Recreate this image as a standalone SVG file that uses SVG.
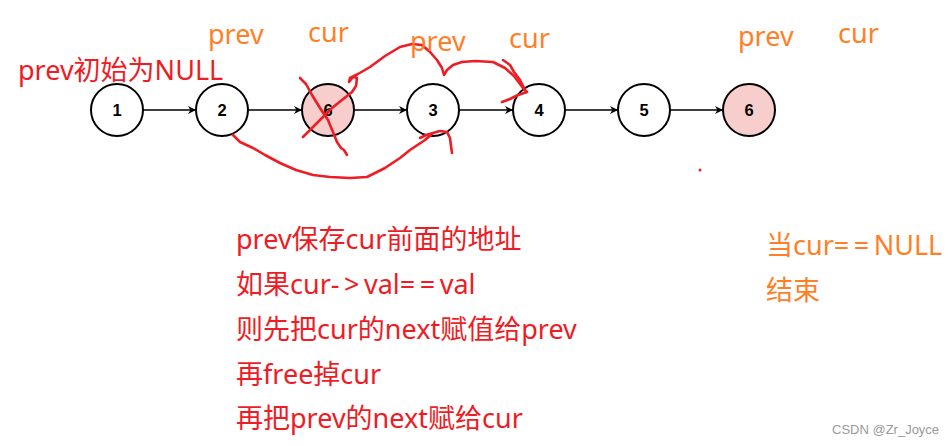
<svg xmlns="http://www.w3.org/2000/svg" width="950" height="446" viewBox="0 0 950 446">
<style>
.node circle{stroke:#000;stroke-width:2;fill:#fff}
.node.hl circle{fill:#f8cecc}
.node text{font-family:"Liberation Sans",Arial,sans-serif;font-weight:bold;font-size:16.5px;text-anchor:middle;fill:#000}
.edge{stroke:#000;stroke-width:1.5;fill:none;marker-end:url(#arr)}
.red{font-family:"Noto Sans","Noto Sans CJK SC",sans-serif;font-size:27px;fill:#ee1c25}
.org{font-family:"Noto Sans","Noto Sans CJK SC",sans-serif;font-size:27px;fill:#ff7f27}
.sp{letter-spacing:4.5px}
.ink{stroke:#ee1c25;stroke-width:2.6;fill:none;stroke-linecap:round;stroke-linejoin:round}
</style>
<defs>
<marker id="arr" viewBox="0 0 10 10" refX="10" refY="5" markerWidth="8" markerHeight="8" markerUnits="userSpaceOnUse" orient="auto">
<path d="M0,0 L10,5 L0,10 L3,5 Z" fill="#000"/>
</marker>
</defs>
<rect width="950" height="446" fill="#fff"/>
<g id="connectors">
<line class="edge" x1="143" y1="110" x2="196" y2="110"/>
<line class="edge" x1="248" y1="110" x2="302" y2="110"/>
<line class="edge" x1="354" y1="110" x2="407" y2="110"/>
<line class="edge" x1="459" y1="110" x2="513" y2="110"/>
<line class="edge" x1="565" y1="110" x2="618" y2="110"/>
<line class="edge" x1="670" y1="110" x2="723" y2="110"/>
</g>
<g id="n1" class="node"><circle cx="117" cy="110" r="26"/><text x="117" y="116">1</text></g>
<g id="n2" class="node"><circle cx="222" cy="110" r="26"/><text x="222" y="116">2</text></g>
<g id="n3" class="node hl"><circle cx="328" cy="110" r="26"/><text x="328" y="116">6</text></g>
<g id="n4" class="node"><circle cx="433" cy="110" r="26"/><text x="433" y="116">3</text></g>
<g id="n5" class="node"><circle cx="539" cy="110" r="26"/><text x="539" y="116">4</text></g>
<g id="n6" class="node"><circle cx="644" cy="110" r="26"/><text x="644" y="116">5</text></g>
<g id="n7" class="node hl"><circle cx="749" cy="110" r="26"/><text x="749" y="116">6</text></g>
<g id="ink">
<path class="ink" d="M300,78 L306,84 L312,95 L320,108 L328,120 L333,132 L337,142 L341,148 L344,150 L347,155"/>
<path class="ink" d="M303,137 L312,128 L322,118 L332,108 L342,100 L352,92 L356,86 L357,78 L353,77 L349,82 L350,78 L358,74 L370,67 L385,56 L400,47 L412,44 L422,45 L430,52 L437,60 L442,68 L444,75 L447,70 L453,65 L462,62 L475,61 L493,62 L505,68 L514,76 L520,84 L523,88 L527,92 L518,95 L510,99 L502,102"/>
<path class="ink" d="M503,60 L510,65 L514,72 L520,80 L524,88"/>
<path class="ink" d="M233,135 L240,142 L253,148 L265,155 L280,163 L296,170 L313,175 L330,177 L350,178 L367,177 L385,168 L400,158 L410,150 L425,140 L433,133 L426,135 L420,138 M433,133 L440,131 L447,132 L450,138 L451,146 L452,153"/>
<circle cx="700" cy="170" r="1.5" fill="#ee1c25"/>
</g>
<g id="labels">
<text class="red" x="18" y="80">prev初始为NULL</text>
<text class="org" x="208" y="44">prev</text>
<text class="org" x="308" y="42">cur</text>
<text class="org" x="410" y="51">prev</text>
<text class="org" x="509" y="48">cur</text>
<text class="org" x="738" y="46">prev</text>
<text class="org" x="838" y="43">cur</text>
<text class="red" x="236" y="249">prev保存cur前面的地址</text>
<text class="red" x="236" y="294">如果cur<tspan class="sp">-&gt;</tspan>val<tspan class="sp">==</tspan>val</text>
<text class="red" x="236" y="339">则先把cur的next赋值给prev</text>
<text class="red" x="236" y="384">再free掉cur</text>
<text class="red" x="236" y="428">再把prev的next赋给cur</text>
<text class="org" x="766" y="255">当cur<tspan class="sp">==</tspan>NULL</text>
<text class="org" x="766" y="300">结束</text>
<text x="832" y="434" font-family="'Liberation Sans',Arial,sans-serif" font-size="13" fill="#999">CSDN @Zr_Joyce</text>
</g>
</svg>
